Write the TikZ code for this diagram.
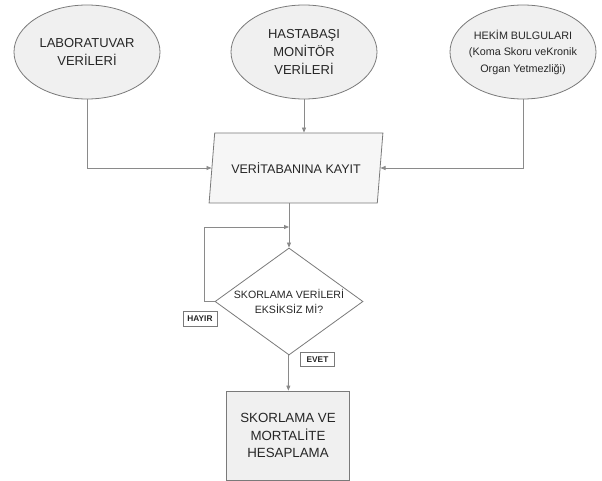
\documentclass[tikz,border=0pt]{standalone}
\usepackage{fontspec}
\setmainfont{Liberation Sans}
\usetikzlibrary{shapes.geometric, arrows.meta}
\definecolor{linegray}{HTML}{8A8A8A}
\definecolor{edgegray}{HTML}{7A7A7A}
\definecolor{boxfill}{HTML}{F0F0F0}
\definecolor{ink}{HTML}{262626}

\begin{document}
\begin{tikzpicture}[x=1pt, y=-1pt, line width=0.8pt, >={Triangle[length=5pt,width=4pt]},
        src/.style = {ellipse, draw=edgegray, fill=boxfill, inner sep=0pt, minimum width=146pt, minimum height=94pt, align=center, text=ink, font=\fontsize{13}{18}\selectfont},
        io/.style = {trapezium, trapezium left angle=75, trapezium right angle=105, trapezium stretches=true, draw=edgegray, fill=boxfill!60!white, minimum width=174pt, minimum height=70pt, text=ink, font=\fontsize{12.5}{15}\selectfont},
        test/.style = {diamond, aspect=1.38, draw=edgegray, fill=white, inner sep=-3pt, minimum width=148pt, minimum height=107pt, align=center, text=ink, font=\fontsize{10.6}{15}\selectfont},
        proc/.style = {rectangle, draw=edgegray, fill=boxfill, minimum width=123pt, minimum height=89pt, align=center, text=ink, font=\fontsize{13.3}{17.5}\selectfont},
        tag/.style = {rectangle, draw=edgegray, fill=white, inner sep=0pt, minimum width=34pt, minimum height=14.5pt, text=ink, font=\fontsize{8.3}{9}\selectfont\bfseries},
        flow/.style = {draw=linegray, ->}]
    \useasboundingbox (0,0) rectangle (602,481);

    \node[src] (1) at (87,52)   {LABORATUVAR\\VERİLERİ};
    \node[src] (2) at (304,52)  {HASTABAŞI\\MONİTÖR\\VERİLERİ};
    \node[src, inner xsep=-8pt, font=\fontsize{10.8}{16.5}\selectfont] (3) at (523,52) {HEKİM BULGULARI\\(Koma Skoru veKronik\\Organ Yetmezliği)};
    \node[io] (4) at (296,168)   {VERİTABANINA KAYIT};
    \node[test] (5) at (289,301.5) {SKORLAMA VERİLERİ\\EKSİKSİZ Mİ?};
    \node[proc] (6) at (288,435.5) {SKORLAMA VE\\MORTALİTE\\HESAPLAMA};
    \node[tag] (hayir) at (200,319) {HAYIR};
    \node[tag] (evet) at (317.5,359.5) {EVET};
    \coordinate (merge) at (289,227);

    \draw[flow] (1) |- (4);
    \draw[flow] (2) to (2 |- 4.north);
    \draw[flow] (3) |- (4);
    \draw[flow] (5 |- 4.south) to (5);
    \draw[flow] (5.west) -- ++(-10,0) |- (merge);
    \draw[flow] (5) to (6);
\end{tikzpicture}
\end{document}
